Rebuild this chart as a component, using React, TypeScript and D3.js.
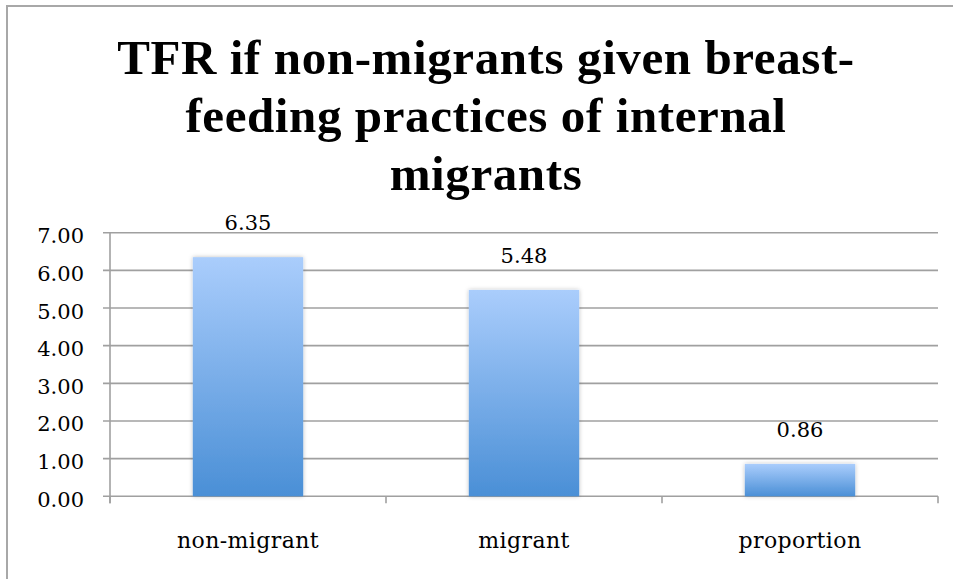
import React from "react";
import * as d3 from "d3";

const categories = ["non-migrant", "migrant", "proportion"];
const values = [6.35, 5.48, 0.86];
const yTicks = [0, 1, 2, 3, 4, 5, 6, 7];
const titleLines = [
  "TFR if non-migrants given breast-",
  "feeding practices of internal",
  "migrants",
];

const W = 953;
const H = 579;
const M = { left: 110, right: 938, top: 232.7, bottom: 496.3 };
const bodyFont = "'DejaVu Serif', serif";
const titleFont = "'Liberation Serif', serif";

export default function App() {
  const x = d3
    .scaleBand<string>()
    .domain(categories)
    .range([M.left, M.right])
    .paddingInner(0.6)
    .paddingOuter(0.3);
  const y = d3.scaleLinear().domain([0, 7]).range([M.bottom, M.top]);
  const step = x.step();
  const boundaries = d3.range(categories.length + 1).map((i) => M.left + i * step);
  const fmt = d3.format(".2f");

  return (
    <svg
      width={W}
      height={H}
      style={{ position: "absolute", left: 0, top: 0, background: "#fff" }}
    >
      <defs>
        <linearGradient id="barGrad" x1="0" y1="0" x2="0" y2="1">
          <stop offset="0%" stopColor="#aacdfc" />
          <stop offset="100%" stopColor="#4a8fd6" />
        </linearGradient>
        <filter id="shadow" x="-20%" y="-20%" width="140%" height="140%">
          <feDropShadow dx="0" dy="0" stdDeviation="2" floodColor="#000" floodOpacity="0.25" />
        </filter>
      </defs>
      <rect x={7} y={6} width={960} height={620} fill="#fff" stroke="#a8a8a8" strokeWidth={2} />

      {titleLines.map((t, i) => (
        <text
          key={t}
          x={486}
          y={74 + i * 58}
          textAnchor="middle"
          fontFamily={titleFont}
          fontWeight="bold"
          fontSize={49}
          letterSpacing={0.6}
          fill="#000"
        >
          {t}
        </text>
      ))}

      {yTicks.map((t) => (
        <g key={t}>
          <line
            x1={M.left - 7}
            x2={M.right}
            y1={y(t)}
            y2={y(t)}
            stroke="#a0a0a0"
            strokeWidth={1.6}
          />
          <text
            x={84}
            y={y(t) + 10.5}
            textAnchor="end"
            fontFamily={bodyFont}
            fontSize={21}
            fill="#000"
          >
            {fmt(t)}
          </text>
        </g>
      ))}

      <line x1={M.left} x2={M.left} y1={M.top} y2={M.bottom + 7} stroke="#a0a0a0" strokeWidth={1.6} />
      {boundaries.map((bx, i) => (
        <line key={i} x1={bx} x2={bx} y1={M.bottom} y2={M.bottom + 7} stroke="#a0a0a0" strokeWidth={1.6} />
      ))}

      {categories.map((c, i) => (
        <g key={c}>
          <rect
            x={x(c)}
            y={y(values[i])}
            width={x.bandwidth()}
            height={y(0) - y(values[i])}
            fill="url(#barGrad)"
            filter="url(#shadow)"
          />
          <text
            x={(x(c) ?? 0) + x.bandwidth() / 2}
            y={y(values[i]) - 27}
            textAnchor="middle"
            fontFamily={bodyFont}
            fontSize={21}
            fill="#000"
          >
            {fmt(values[i])}
          </text>
          <text
            x={(x(c) ?? 0) + x.bandwidth() / 2}
            y={548}
            textAnchor="middle"
            fontFamily={bodyFont}
            fontSize={22}
            letterSpacing={0.4}
            fill="#000"
          >
            {c}
          </text>
        </g>
      ))}
    </svg>
  );
}
